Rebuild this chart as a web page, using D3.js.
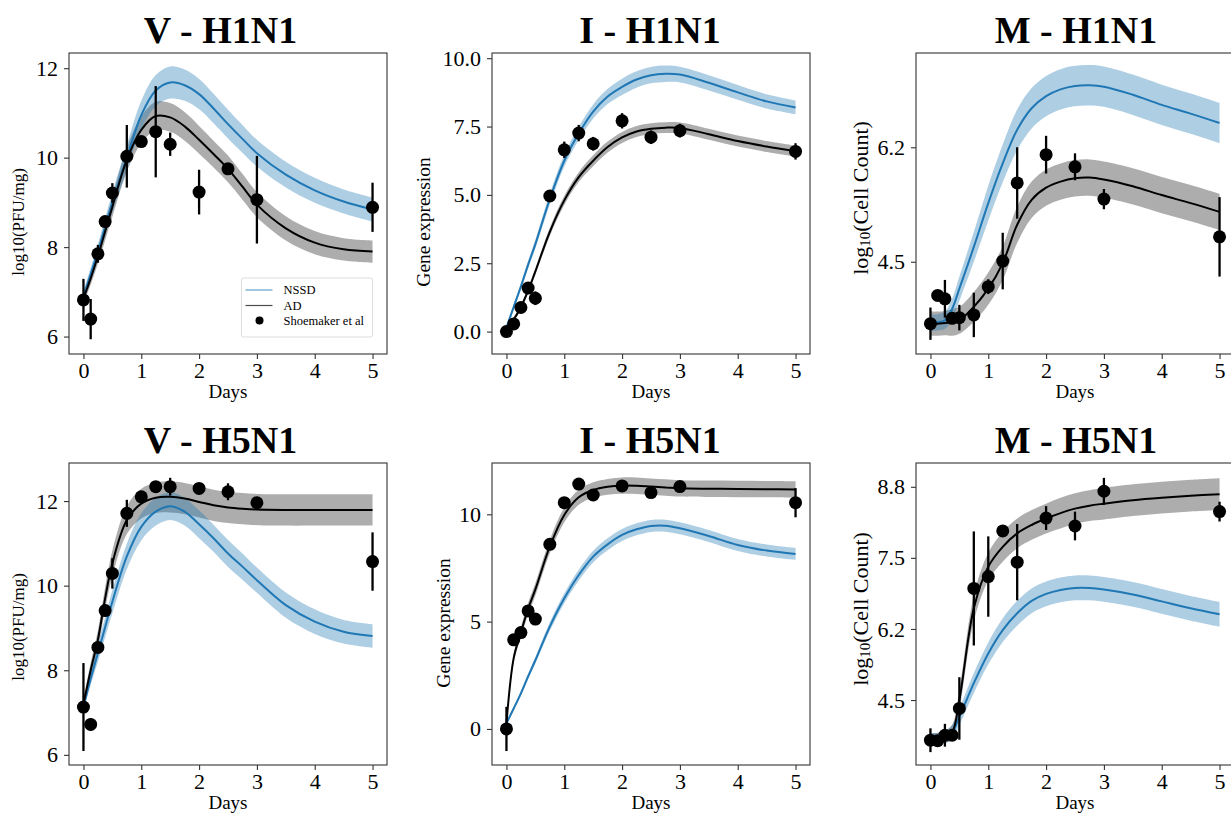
<!DOCTYPE html>
<html>
<head>
<meta charset="utf-8">
<script src="https://cdn.jsdelivr.net/npm/d3@7"></script>
<style>
  body { margin: 0; background: #fff; }
  svg text { font-family: "Liberation Serif", "Times New Roman", serif; fill: #000; }
</style>
</head>
<body>
<svg id="chart" width="1231" height="818"></svg>
<script>
// Model time grid (days) and sampling days of the measurements
const modelDays = [0, 0.125, 0.25, 0.375, 0.5, 0.75, 1, 1.25, 1.5, 1.75, 2, 2.25, 2.5, 2.75, 3, 3.5, 4, 4.5, 5];
const obsDays = [0, 0.125, 0.25, 0.375, 0.5, 0.75, 1, 1.25, 1.5, 2, 2.5, 3, 5];
const xTicks = [0, 1, 2, 3, 4, 5];

// ---- V - H1N1 : viral titre ----
const vH1Nssd     = [6.9, 7.4, 7.9, 8.45, 9.0, 10.0, 10.95, 11.5, 11.68, 11.62, 11.42, 11.1, 10.75, 10.42, 10.1, 9.62, 9.27, 9.02, 8.84];
const vH1NssdBand = [0.12, 0.14, 0.17, 0.2, 0.22, 0.28, 0.32, 0.35, 0.36, 0.35, 0.34, 0.33, 0.32, 0.31, 0.3, 0.29, 0.28, 0.27, 0.27];
const vH1Ad       = [6.85, 7.3, 7.8, 8.35, 8.9, 9.95, 10.62, 10.93, 10.9, 10.7, 10.4, 10.08, 9.75, 9.35, 8.95, 8.42, 8.1, 7.95, 7.9];
const vH1AdBand   = [0.12, 0.14, 0.17, 0.2, 0.22, 0.27, 0.3, 0.32, 0.32, 0.32, 0.31, 0.3, 0.3, 0.29, 0.28, 0.27, 0.26, 0.25, 0.25];
const vH1Obs      = [6.82, 6.39, 7.85, 8.57, 9.21, 10.03, 10.36, 10.58, 10.30, 9.23, 9.75, 9.06, 8.89];
const vH1ObsErr   = [0.47, 0.45, 0.2, 0.12, 0.22, 0.7, 0.1, 1.02, 0.26, 0.5, 0.13, 0.98, 0.55];
const vH1Ticks    = [6, 8, 10, 12];
const vH1TickLabels = ["6", "8", "10", "12"];

// ---- I - H1N1 : interferon gene expression ----
const iH1Nssd     = [0.15, 0.9, 1.65, 2.45, 3.2, 4.85, 6.25, 7.25, 8.05, 8.6, 8.95, 9.22, 9.38, 9.43, 9.4, 9.1, 8.75, 8.42, 8.2];
const iH1NssdBand = [0.08, 0.1, 0.12, 0.14, 0.16, 0.2, 0.22, 0.24, 0.26, 0.28, 0.3, 0.3, 0.3, 0.3, 0.29, 0.28, 0.27, 0.26, 0.25];
const iH1Ad       = [0.15, 0.45, 0.9, 1.5, 2.2, 3.65, 4.8, 5.65, 6.25, 6.75, 7.1, 7.32, 7.42, 7.46, 7.45, 7.22, 6.97, 6.77, 6.6];
const iH1AdBand   = [0.05, 0.07, 0.09, 0.1, 0.12, 0.15, 0.17, 0.18, 0.2, 0.2, 0.2, 0.2, 0.2, 0.2, 0.2, 0.2, 0.2, 0.2, 0.2];
const iH1Obs      = [0.0, 0.28, 0.88, 1.59, 1.22, 4.96, 6.65, 7.26, 6.87, 7.71, 7.11, 7.35, 6.59];
const iH1ObsErr   = [0.2, 0.15, 0.15, 0.2, 0.25, 0.22, 0.3, 0.3, 0.25, 0.28, 0.25, 0.25, 0.3];
const iH1Ticks    = [0, 2.5, 5, 7.5, 10];
const iH1TickLabels = ["0.0", "2.5", "5.0", "7.5", "10.0"];

// ---- M - H1N1 : macrophage count ----
const mH1Nssd     = [3.59, 3.6, 3.63, 3.8, 4.1, 4.72, 5.37, 5.96, 6.46, 6.78, 6.96, 7.06, 7.11, 7.12, 7.1, 6.98, 6.83, 6.7, 6.56];
const mH1NssdBand = [0.12, 0.12, 0.13, 0.15, 0.18, 0.22, 0.26, 0.28, 0.3, 0.3, 0.3, 0.3, 0.3, 0.3, 0.3, 0.3, 0.3, 0.3, 0.3];
const mH1Ad       = [3.58, 3.58, 3.59, 3.6, 3.63, 3.83, 4.1, 4.48, 5.05, 5.42, 5.6, 5.69, 5.74, 5.75, 5.72, 5.62, 5.49, 5.37, 5.24];
const mH1AdBand   = [0.18, 0.18, 0.18, 0.2, 0.2, 0.22, 0.24, 0.25, 0.27, 0.27, 0.27, 0.27, 0.27, 0.27, 0.27, 0.27, 0.27, 0.27, 0.27];
const mH1Obs      = [3.58, 4.00, 3.95, 3.66, 3.67, 3.71, 4.13, 4.51, 5.67, 6.09, 5.91, 5.43, 4.87];
const mH1ObsErr   = [0.24, 0.05, 0.28, 0.05, 0.19, 0.33, 0.11, 0.42, 0.53, 0.28, 0.2, 0.15, 0.59];
const mH1Ticks    = [4.5, 6.2];
const mH1TickLabels = ["4.5", "6.2"];

// ---- V - H5N1 ----
const vH5Nssd     = [7.14, 7.8, 8.4, 9.02, 9.62, 10.69, 11.39, 11.75, 11.88, 11.75, 11.45, 11.12, 10.76, 10.45, 10.13, 9.54, 9.15, 8.91, 8.81];
const vH5NssdBand = [0.1, 0.15, 0.2, 0.24, 0.27, 0.3, 0.32, 0.33, 0.33, 0.33, 0.33, 0.32, 0.32, 0.31, 0.3, 0.3, 0.29, 0.28, 0.28];
const vH5Ad       = [7.2, 8.0, 8.72, 9.7, 10.53, 11.55, 11.94, 12.08, 12.1, 12.06, 11.98, 11.9, 11.85, 11.82, 11.8, 11.79, 11.79, 11.79, 11.79];
const vH5AdBand   = [0.12, 0.18, 0.22, 0.26, 0.3, 0.33, 0.35, 0.36, 0.37, 0.37, 0.37, 0.37, 0.37, 0.37, 0.37, 0.37, 0.37, 0.37, 0.37];
const vH5Obs      = [7.13, 6.72, 8.54, 9.41, 10.29, 11.71, 12.10, 12.34, 12.34, 12.30, 12.22, 11.96, 10.57];
const vH5ObsErr   = [1.04, 0.15, 0.1, 0.1, 0.36, 0.32, 0.08, 0.08, 0.21, 0.07, 0.2, 0.07, 0.69];
const vH5Ticks    = [6, 8, 10, 12];
const vH5TickLabels = ["6", "8", "10", "12"];

// ---- I - H5N1 ----
const iH5Nssd     = [0.26, 0.95, 1.66, 2.45, 3.2, 4.77, 6.09, 7.17, 8.03, 8.6, 9.04, 9.3, 9.46, 9.47, 9.35, 8.99, 8.57, 8.31, 8.15];
const iH5NssdBand = [0.05, 0.08, 0.1, 0.13, 0.15, 0.2, 0.23, 0.25, 0.27, 0.28, 0.28, 0.28, 0.28, 0.28, 0.28, 0.28, 0.28, 0.28, 0.28];
const iH5Ad       = [0.26, 3.3, 4.5, 5.6, 6.5, 8.5, 9.97, 10.79, 11.13, 11.28, 11.34, 11.33, 11.29, 11.25, 11.21, 11.19, 11.18, 11.17, 11.16];
const iH5AdBand   = [0.1, 0.2, 0.25, 0.28, 0.3, 0.32, 0.34, 0.35, 0.36, 0.37, 0.38, 0.38, 0.38, 0.38, 0.38, 0.38, 0.38, 0.38, 0.38];
const iH5Obs      = [0.0, 4.15, 4.49, 5.5, 5.12, 8.6, 10.54, 11.41, 10.9, 11.32, 11.01, 11.29, 10.54];
const iH5ObsErr   = [1.03, 0.12, 0.15, 0.15, 0.28, 0.2, 0.15, 0.12, 0.15, 0.12, 0.12, 0.12, 0.68];
const iH5Ticks    = [0, 5, 10];
const iH5TickLabels = ["0", "5", "10"];

// ---- M - H5N1 ----
const mH5Nssd     = [3.73, 3.74, 3.76, 3.85, 4.16, 4.84, 5.44, 5.91, 6.25, 6.5, 6.64, 6.72, 6.76, 6.76, 6.73, 6.63, 6.49, 6.35, 6.23];
const mH5NssdBand = [0.1, 0.1, 0.12, 0.14, 0.17, 0.2, 0.22, 0.24, 0.25, 0.25, 0.25, 0.25, 0.25, 0.25, 0.25, 0.25, 0.25, 0.25, 0.25];
const mH5Ad       = [3.73, 3.74, 3.76, 3.85, 4.5, 6.35, 7.19, 7.59, 7.86, 8.03, 8.16, 8.27, 8.36, 8.42, 8.46, 8.53, 8.58, 8.62, 8.65];
const mH5AdBand   = [0.1, 0.1, 0.12, 0.15, 0.2, 0.26, 0.28, 0.3, 0.3, 0.3, 0.3, 0.31, 0.31, 0.31, 0.32, 0.32, 0.32, 0.32, 0.32];
const mH5Obs      = [3.69, 3.68, 3.79, 3.79, 4.33, 6.75, 6.99, 7.91, 7.28, 8.17, 8.01, 8.71, 8.30];
const mH5ObsErr   = [0.24, 0.05, 0.23, 0.05, 0.63, 1.15, 0.81, 0.1, 0.77, 0.24, 0.29, 0.27, 0.2];
const mH5Ticks    = [4.5, 5.933, 7.367, 8.8];
const mH5TickLabels = ["4.5", "6.2", "7.5", "8.8"];

const legendLabels = ["NSSD", "AD", "Shoemaker et al"];

const BLUE = "#1f77b4";
const FRAME = "#333";

// Panel layout and per-panel axis setup
const W = 318;
const panels = [
  { title: "V - H1N1", ylab: "pfu", left: 69,  top: 53,  h: 301, yDomain: [5.61, 12.34], ticks: vH1Ticks, tickLabels: vH1TickLabels,
    nssd: vH1Nssd, nssdBand: vH1NssdBand, ad: vH1Ad, adBand: vH1AdBand, obs: vH1Obs, obsErr: vH1ObsErr, labX: 18, labY: 222, titleX: 220.5, legend: true },
  { title: "I - H1N1", ylab: "gene", left: 492, top: 53,  h: 301, yDomain: [-0.82, 10.19], ticks: iH1Ticks, tickLabels: iH1TickLabels,
    nssd: iH1Nssd, nssdBand: iH1NssdBand, ad: iH1Ad, adBand: iH1AdBand, obs: iH1Obs, obsErr: iH1ObsErr, labX: 423, labY: 222, titleX: 650 },
  { title: "M - H1N1", ylab: "cell", left: 916, top: 53,  h: 301, yDomain: [3.13, 7.60], ticks: mH1Ticks, tickLabels: mH1TickLabels,
    nssd: mH1Nssd, nssdBand: mH1NssdBand, ad: mH1Ad, adBand: mH1AdBand, obs: mH1Obs, obsErr: mH1ObsErr, labX: 860, labY: 198, titleX: 1076 },
  { title: "V - H5N1", ylab: "pfu", left: 69,  top: 463, h: 302, yDomain: [5.76, 12.9], ticks: vH5Ticks, tickLabels: vH5TickLabels,
    nssd: vH5Nssd, nssdBand: vH5NssdBand, ad: vH5Ad, adBand: vH5AdBand, obs: vH5Obs, obsErr: vH5ObsErr, labX: 18, labY: 627, titleX: 220.5 },
  { title: "I - H5N1", ylab: "gene", left: 492, top: 463, h: 302, yDomain: [-1.68, 12.39], ticks: iH5Ticks, tickLabels: iH5TickLabels,
    nssd: iH5Nssd, nssdBand: iH5NssdBand, ad: iH5Ad, adBand: iH5AdBand, obs: iH5Obs, obsErr: iH5ObsErr, labX: 443, labY: 623, titleX: 650 },
  { title: "M - H5N1", ylab: "cell", left: 916, top: 463, h: 302, yDomain: [3.19, 9.28], ticks: mH5Ticks, tickLabels: mH5TickLabels,
    nssd: mH5Nssd, nssdBand: mH5NssdBand, ad: mH5Ad, adBand: mH5AdBand, obs: mH5Obs, obsErr: mH5ObsErr, labX: 860, labY: 609, titleX: 1076 }
];

const svg = d3.select("#chart");

panels.forEach((p, pi) => {
  const x = d3.scaleLinear().domain([-0.25, 5.25]).range([p.left, p.left + W]);
  const y = d3.scaleLinear().domain(p.yDomain).range([p.top + p.h, p.top]);
  const g = svg.append("g");

  const clipId = "clip" + pi;
  g.append("clipPath").attr("id", clipId)
    .append("rect").attr("x", p.left).attr("y", p.top).attr("width", W).attr("height", p.h);
  const plot = g.append("g").attr("clip-path", `url(#${clipId})`);

  const curve = d3.curveCatmullRom.alpha(0.5);
  const band = (m, b) => d3.area().curve(curve)
    .x((d, i) => x(modelDays[i]))
    .y0((d, i) => y(m[i] - b[i]))
    .y1((d, i) => y(m[i] + b[i]))(m);
  const line = (m) => d3.line().curve(curve)
    .x((d, i) => x(modelDays[i]))
    .y(d => y(d))(m);

  // uncertainty bands
  plot.append("path").attr("d", band(p.ad, p.adBand)).attr("fill", "#000").attr("fill-opacity", 0.32);
  plot.append("path").attr("d", band(p.nssd, p.nssdBand)).attr("fill", BLUE).attr("fill-opacity", 0.36);
  // model means
  plot.append("path").attr("d", line(p.nssd)).attr("fill", "none").attr("stroke", BLUE).attr("stroke-width", 2);
  plot.append("path").attr("d", line(p.ad)).attr("fill", "none").attr("stroke", "#000").attr("stroke-width", 2);

  // measurements with error bars
  const obs = p.obs.map((v, i) => ({ t: obsDays[i], v, e: p.obsErr[i] }));
  plot.selectAll(".err").data(obs).join("line")
    .attr("x1", d => x(d.t)).attr("x2", d => x(d.t))
    .attr("y1", d => y(d.v - d.e)).attr("y2", d => y(d.v + d.e))
    .attr("stroke", "#000").attr("stroke-width", 2.3);
  plot.selectAll(".pt").data(obs).join("circle")
    .attr("cx", d => x(d.t)).attr("cy", d => y(d.v)).attr("r", 6.5).attr("fill", "#000");

  // frame
  g.append("rect").attr("x", p.left).attr("y", p.top).attr("width", W).attr("height", p.h)
    .attr("fill", "none").attr("stroke", FRAME).attr("stroke-width", 1.1);

  // axes
  const xAxis = g.append("g").attr("transform", `translate(0,${p.top + p.h})`)
    .call(d3.axisBottom(x).tickValues(xTicks).tickFormat(d3.format("d")).tickSize(5).tickPadding(3));
  const yAxis = g.append("g").attr("transform", `translate(${p.left},0)`)
    .call(d3.axisLeft(y).tickValues(p.ticks).tickFormat((d, i) => p.tickLabels[i]).tickSize(5).tickPadding(6));
  [xAxis, yAxis].forEach(a => {
    a.select(".domain").remove();
    a.selectAll("line").attr("stroke", FRAME).attr("stroke-width", 1.1);
    a.selectAll("text").attr("font-size", 22).attr("font-family", '"Liberation Serif", serif').attr("fill", "#000");
  });

  // title
  g.append("text").attr("x", p.titleX).attr("y", p.top - 10)
    .attr("text-anchor", "middle").attr("font-size", 38).attr("font-weight", "bold")
    .text(p.title);

  // x label
  g.append("text").attr("x", p.left + W / 2).attr("y", p.top + p.h + 44)
    .attr("text-anchor", "middle").attr("font-size", 19).text("Days");

  // y label
  const yl = g.append("text").attr("transform", `translate(${p.labX},${p.labY}) rotate(-90)`)
    .attr("text-anchor", "middle").attr("dominant-baseline", "central");
  if (p.ylab === "pfu") {
    yl.attr("font-size", 17).text("log10(PFU/mg)");
  } else if (p.ylab === "gene") {
    yl.attr("font-size", 19.5).text("Gene expression");
  } else {
    yl.attr("font-size", 22);
    yl.append("tspan").text("log");
    yl.append("tspan").attr("font-size", 15).attr("dy", 5).text("10");
    yl.append("tspan").attr("dy", -5).text("(Cell Count)");
  }

  // legend
  if (p.legend) {
    const lg = g.append("g");
    const lx = p.left + 172.5, ly = p.top + 225;
    lg.append("rect").attr("x", lx).attr("y", ly).attr("width", 131).attr("height", 59).attr("rx", 2)
      .attr("fill", "#fff").attr("fill-opacity", 0.85).attr("stroke", "#ddd").attr("stroke-width", 1);
    const rows = [12, 27.5, 42.5];
    lg.append("line").attr("x1", lx + 4).attr("x2", lx + 31).attr("y1", ly + rows[0]).attr("y2", ly + rows[0])
      .attr("stroke", BLUE).attr("stroke-opacity", 0.7).attr("stroke-width", 1.2);
    lg.append("line").attr("x1", lx + 4).attr("x2", lx + 31).attr("y1", ly + rows[1]).attr("y2", ly + rows[1])
      .attr("stroke", "#000").attr("stroke-opacity", 0.7).attr("stroke-width", 1.2);
    lg.append("circle").attr("cx", lx + 18).attr("cy", ly + rows[2]).attr("r", 4).attr("fill", "#000");
    legendLabels.forEach((t, i) => {
      lg.append("text").attr("x", lx + 42).attr("y", ly + rows[i]).attr("dominant-baseline", "central")
        .attr("font-size", 12.5).text(t);
    });
  }
});
</script>
</body>
</html>
